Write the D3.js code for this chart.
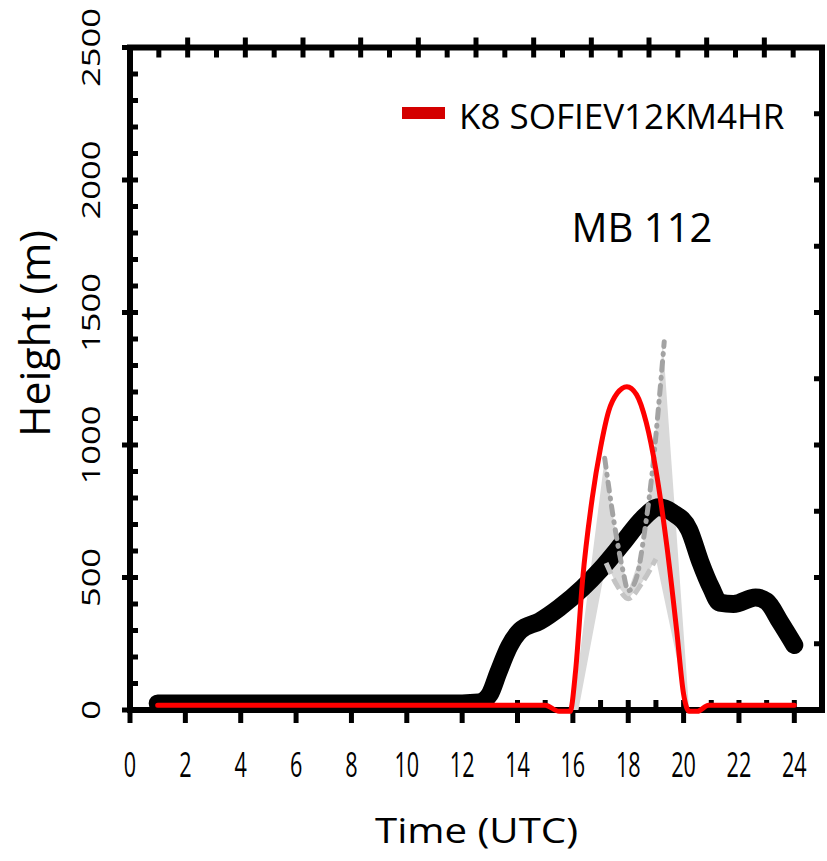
<!DOCTYPE html>
<html>
<head>
<meta charset="utf-8">
<script src="https://cdn.jsdelivr.net/npm/d3@7"></script>
<style>
  body { margin: 0; background: #fff; }
  text { font-family: 'Open Sans', 'Noto Sans', sans-serif; font-weight: 400; fill: #000; }
</style>
</head>
<body>
<script>
// observed (thick black)
const obsHours  = [1, 4, 8, 12, 12.6, 13.0, 13.3, 13.7, 14.1, 14.8, 15.5, 16.35, 17.0, 17.8, 18.5, 19.1, 19.6, 20.2, 20.6, 21.0, 21.3, 21.8, 22.6, 23.0, 23.5, 24.0];
const obsHeight = [25, 25, 25, 25, 28, 60, 140, 240, 300, 335, 385, 460, 530, 630, 720, 765, 745, 680, 560, 460, 405, 400, 425, 410, 330, 245];

// K8 SOFIEV12KM4HR (red)
const modelHours  = [1, 15.0, 15.5, 15.9, 16.1, 16.35, 16.7, 17.0, 17.3, 17.6, 17.95, 18.3, 18.65, 19.0, 19.4, 19.75, 20.0, 20.2, 20.5, 20.9, 24];
const modelHeight = [18, 18, -5, -5, 150, 490, 800, 990, 1130, 1195, 1220, 1190, 1085, 905, 615, 300, 60, -5, -5, 18, 18];

// grey ensemble envelope
const envUpperHours = [16.0, 17.15, 17.5, 18.0, 18.5, 18.9, 19.25, 20.2];
const envUpper      = [0, 950, 700, 450, 600, 930, 1390, 0];
const envLowerHours = [16.2, 17.2, 17.6, 18.0, 18.5, 19.0, 20.15];
const envLower      = [0, 555, 470, 420, 480, 570, 0];

// grey member lines
const darkHours  = [17.15, 17.5, 17.8, 18.0, 18.3, 18.6, 18.9, 19.1, 19.3];
const darkHeight = [950, 700, 530, 450, 500, 680, 930, 1150, 1390];
const lightHours  = [17.2, 17.6, 18.0, 18.5, 19.0];
const lightHeight = [555, 470, 420, 480, 570];

const xTickLabels = [0, 2, 4, 6, 8, 10, 12, 14, 16, 18, 20, 22, 24];
const yTickLabels = [0, 500, 1000, 1500, 2000, 2500];
const legendLabel = 'K8 SOFIEV12KM4HR';
const siteLabel = 'MB 112';

const W = 827, H = 861;
const x = d3.scaleLinear().domain([0, 25]).range([130, 822]);
const xTop = d3.scaleLinear().domain([0, 24]).range([130, 822]);
const y = d3.scaleLinear().domain([0, 2500]).range([710, 47.5]);

const zip = (a, b) => a.map((v, i) => [v, b[i]]);

const svg = d3.select('body').append('svg')
  .attr('width', W).attr('height', H);

svg.append('rect').attr('width', W).attr('height', H).attr('fill', '#fff');

// frame
const frame = svg.append('g').attr('stroke', '#000').attr('fill', 'none');
frame.append('rect')
  .attr('x', x(0)).attr('y', y(2500))
  .attr('width', x(25) - x(0)).attr('height', y(0) - y(2500))
  .attr('stroke-width', 6);

const tk = frame.append('g').attr('stroke-width', 5);

// left ticks
d3.range(0, 2501, 100).forEach(v => {
  const major = v % 500 === 0;
  tk.append('line')
    .attr('x1', major ? x(0) - 8 : x(0)).attr('x2', x(0) + 8)
    .attr('y1', y(v)).attr('y2', y(v));
});
// right ticks
d3.range(250, 2500, 250).forEach(v => {
  tk.append('line')
    .attr('x1', x(25) - 8).attr('x2', x(25))
    .attr('y1', y(v)).attr('y2', y(v));
});
// bottom ticks
d3.range(0, 25, 1).forEach(h => {
  const major = h % 2 === 0;
  tk.append('line')
    .attr('x1', x(h)).attr('x2', x(h))
    .attr('y1', y(0) - 10).attr('y2', major ? y(0) + 13 : y(0));
});
// top ticks
d3.range(1, 24, 1).forEach(h => {
  const major = h % 2 === 0;
  tk.append('line')
    .attr('x1', xTop(h)).attr('x2', xTop(h))
    .attr('y1', major ? y(2500) - 10 : y(2500)).attr('y2', y(2500) + 10);
});

// tick labels
svg.append('g').selectAll('text')
  .data(xTickLabels)
  .enter().append('text')
    .attr('transform', d => `translate(${x(d)},777) scale(0.9,1.45)`)
    .attr('text-anchor', 'middle')
    .style('font-size', '24px')
    .text(d => d);

svg.append('g').selectAll('text')
  .data(yTickLabels)
  .enter().append('text')
    .attr('transform', d => `translate(100,${y(d)}) scale(1,1.38) rotate(-90)`)
    .attr('text-anchor', 'middle')
    .style('font-size', '25px')
    .text(d => d);

// axis titles
svg.append('text')
  .attr('x', 476.5).attr('y', 843)
  .attr('text-anchor', 'middle')
  .attr('textLength', 203).attr('lengthAdjust', 'spacingAndGlyphs')
  .style('font-size', '34px')
  .text('Time (UTC)');

svg.append('text')
  .attr('transform', 'translate(50,333.5) rotate(-90)')
  .attr('text-anchor', 'middle')
  .attr('textLength', 207).attr('lengthAdjust', 'spacingAndGlyphs')
  .style('font-size', '42px')
  .text('Height (m)');

// series
const line = d3.line()
  .x(d => x(d[0]))
  .y(d => y(d[1]))
  .curve(d3.curveMonotoneX);

const envelope = zip(envUpperHours, envUpper)
  .concat(zip(envLowerHours, envLower).reverse());

svg.append('path')
  .attr('d', d3.line().x(d => x(d[0])).y(d => y(d[1])).curve(d3.curveLinearClosed)(envelope))
  .attr('fill', '#d9d9d9');

svg.append('path')
  .attr('d', line(zip(obsHours, obsHeight)))
  .attr('fill', 'none')
  .attr('stroke', '#000')
  .attr('stroke-width', 18)
  .attr('stroke-linecap', 'round')
  .attr('stroke-linejoin', 'round');

svg.append('path')
  .attr('d', line(zip(lightHours, lightHeight)))
  .attr('fill', 'none')
  .attr('stroke', '#c4c4c4')
  .attr('stroke-width', 5)
  .attr('stroke-dasharray', '12,5');

svg.append('path')
  .attr('d', line(zip(darkHours, darkHeight)))
  .attr('fill', 'none')
  .attr('stroke', '#a3a3a3')
  .attr('stroke-width', 5)
  .attr('stroke-linecap', 'round')
  .attr('stroke-dasharray', '9,7,1,7');

svg.append('path')
  .attr('d', line(zip(modelHours, modelHeight)))
  .attr('fill', 'none')
  .attr('stroke', '#ff0000')
  .attr('stroke-width', 5)
  .attr('stroke-linecap', 'round')
  .attr('stroke-linejoin', 'round');

// legend
svg.append('rect')
  .attr('x', 402).attr('y', 107)
  .attr('width', 43).attr('height', 12)
  .attr('fill', '#d40000');

svg.append('text')
  .attr('x', 459).attr('y', 129)
  .style('font-size', '35px')
  .text(legendLabel);

svg.append('text')
  .attr('x', 642).attr('y', 242)
  .attr('text-anchor', 'middle')
  .style('font-size', '40px')
  .text(siteLabel);
</script>
</body>
</html>
